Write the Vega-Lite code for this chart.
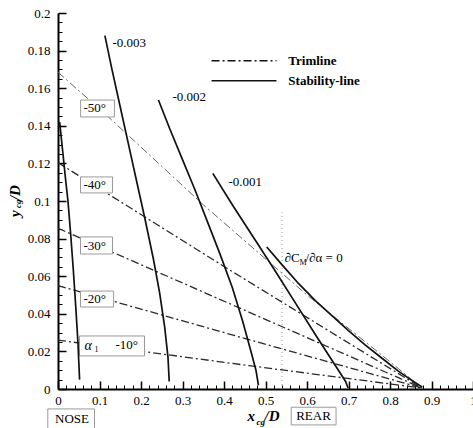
{
  "$schema": "https://vega.github.io/schema/vega-lite/v6.json",
  "width": 415,
  "height": 376,
  "autosize": {"type": "none"},
  "padding": {"left": 58, "top": 13, "right": 0, "bottom": 39},
  "background": "white",
  "config": {
    "view": {"stroke": null},
    "axis": {"domainColor": "black", "domainWidth": 2, "tickColor": "black", "labelFont": "Liberation Serif", "labelFontSize": 13, "labelColor": "black", "grid": false, "labelOverlap": false, "labelFlush": false}
  },
  "resolve": {"axis": {"x": "independent", "y": "independent"}},
  "datasets": {
    "trim": [
      {"curve": "-50", "x": 0, "y": 0.1685}, {"curve": "-50", "x": 0.12, "y": 0.145}, {"curve": "-50", "x": 0.35, "y": 0.098}, {"curve": "-50", "x": 0.6, "y": 0.05}, {"curve": "-50", "x": 0.8, "y": 0.0145}, {"curve": "-50", "x": 0.877, "y": 0.0005},
      {"curve": "-40", "x": 0, "y": 0.1204}, {"curve": "-40", "x": 0.405, "y": 0.0645}, {"curve": "-40", "x": 0.877, "y": 0.0005},
      {"curve": "-30", "x": 0, "y": 0.0855}, {"curve": "-30", "x": 0.461, "y": 0.0408}, {"curve": "-30", "x": 0.877, "y": 0.0005},
      {"curve": "-20", "x": 0, "y": 0.055}, {"curve": "-20", "x": 0.461, "y": 0.0262}, {"curve": "-20", "x": 0.877, "y": 0.0005},
      {"curve": "-10", "x": 0, "y": 0.026}, {"curve": "-10", "x": 0.461, "y": 0.0124}, {"curve": "-10", "x": 0.877, "y": 0.0005}
    ],
    "stab": [
      {"curve": "nose", "x": 0.004, "y": 0.142}, {"curve": "nose", "x": 0.012, "y": 0.125}, {"curve": "nose", "x": 0.018, "y": 0.112}, {"curve": "nose", "x": 0.024, "y": 0.1}, {"curve": "nose", "x": 0.031, "y": 0.081}, {"curve": "nose", "x": 0.037, "y": 0.063}, {"curve": "nose", "x": 0.043, "y": 0.043}, {"curve": "nose", "x": 0.048, "y": 0.025}, {"curve": "nose", "x": 0.052, "y": 0.005},
      {"curve": "-0.003", "x": 0.113, "y": 0.188}, {"curve": "-0.003", "x": 0.13, "y": 0.17}, {"curve": "-0.003", "x": 0.15, "y": 0.15}, {"curve": "-0.003", "x": 0.17, "y": 0.13}, {"curve": "-0.003", "x": 0.19, "y": 0.11}, {"curve": "-0.003", "x": 0.21, "y": 0.09}, {"curve": "-0.003", "x": 0.23, "y": 0.069}, {"curve": "-0.003", "x": 0.245, "y": 0.051}, {"curve": "-0.003", "x": 0.257, "y": 0.033}, {"curve": "-0.003", "x": 0.265, "y": 0.017}, {"curve": "-0.003", "x": 0.268, "y": 0.004},
      {"curve": "-0.002", "x": 0.242, "y": 0.1537}, {"curve": "-0.002", "x": 0.27, "y": 0.138}, {"curve": "-0.002", "x": 0.3, "y": 0.122}, {"curve": "-0.002", "x": 0.33, "y": 0.106}, {"curve": "-0.002", "x": 0.36, "y": 0.089}, {"curve": "-0.002", "x": 0.39, "y": 0.072}, {"curve": "-0.002", "x": 0.42, "y": 0.054}, {"curve": "-0.002", "x": 0.445, "y": 0.036}, {"curve": "-0.002", "x": 0.465, "y": 0.02}, {"curve": "-0.002", "x": 0.477, "y": 0.01}, {"curve": "-0.002", "x": 0.483, "y": 0.002},
      {"curve": "-0.001", "x": 0.373, "y": 0.1147}, {"curve": "-0.001", "x": 0.42, "y": 0.098}, {"curve": "-0.001", "x": 0.47, "y": 0.081}, {"curve": "-0.001", "x": 0.52, "y": 0.064}, {"curve": "-0.001", "x": 0.57, "y": 0.0465}, {"curve": "-0.001", "x": 0.62, "y": 0.029}, {"curve": "-0.001", "x": 0.655, "y": 0.017}, {"curve": "-0.001", "x": 0.68, "y": 0.0085}, {"curve": "-0.001", "x": 0.693, "y": 0.004}, {"curve": "-0.001", "x": 0.699, "y": 0.0005},
      {"curve": "0", "x": 0.503, "y": 0.0755}, {"curve": "0", "x": 0.54, "y": 0.066}, {"curve": "0", "x": 0.58, "y": 0.056}, {"curve": "0", "x": 0.62, "y": 0.047}, {"curve": "0", "x": 0.66, "y": 0.039}, {"curve": "0", "x": 0.7, "y": 0.031}, {"curve": "0", "x": 0.74, "y": 0.0235}, {"curve": "0", "x": 0.78, "y": 0.0165}, {"curve": "0", "x": 0.82, "y": 0.0095}, {"curve": "0", "x": 0.85, "y": 0.005}, {"curve": "0", "x": 0.878, "y": 0.001}
    ],
    "boxes": [
      {"x": 0.0545, "x2": 0.136, "y": 0.1447, "y2": 0.1537},
      {"x": 0.0542, "x2": 0.1313, "y": 0.1043, "y2": 0.1128},
      {"x": 0.0542, "x2": 0.1313, "y": 0.0718, "y2": 0.0809},
      {"x": 0.0542, "x2": 0.134, "y": 0.0436, "y2": 0.0521},
      {"x": 0.0518, "x2": 0.2084, "y": 0.0176, "y2": 0.0282},
      {"x": -0.0246, "x2": 0.088, "y": -0.0106, "y2": -0.0225},
      {"x": 0.562, "x2": 0.67, "y": -0.0097, "y2": -0.0191}
    ],
    "legend": [
      {"type": "Trimline", "x": 0.37, "x2": 0.5265, "y": 0.1746},
      {"type": "Stability-line", "x": 0.37, "x2": 0.5265, "y": 0.164}
    ],
    "neutral": [{"x": 0.54, "y": 0, "y2": 0.094}],
    "texts": [
      {"kind": "plain", "x": 0.1313, "y": 0.184, "text": "-0.003"},
      {"kind": "plain", "x": 0.2759, "y": 0.1553, "text": "-0.002"},
      {"kind": "plain", "x": 0.4108, "y": 0.1101, "text": "-0.001"},
      {"kind": "plain", "x": 0.0614, "y": 0.1495, "text": "-50°"},
      {"kind": "plain", "x": 0.0614, "y": 0.1085, "text": "-40°"},
      {"kind": "plain", "x": 0.0614, "y": 0.0761, "text": "-30°"},
      {"kind": "plain", "x": 0.0614, "y": 0.0479, "text": "-20°"},
      {"kind": "plain", "x": 0.1386, "y": 0.0234, "text": "-10°"},
      {"kind": "plain", "x": 0.5458, "y": 0.0697, "text": "∂C"},
      {"kind": "plain", "x": 0.5964, "y": 0.0697, "text": "/∂α = 0"},
      {"kind": "italic", "x": 0.0639, "y": 0.0229, "text": "α"},
      {"kind": "sub", "x": 0.088, "y": 0.0207, "text": "1"},
      {"kind": "sub", "x": 0.5819, "y": 0.067, "text": "M"},
      {"kind": "bold", "x": 0.555, "y": 0.1746, "text": "Trimline"},
      {"kind": "bold", "x": 0.555, "y": 0.164, "text": "Stability-line"},
      {"kind": "center", "x": 0.0337, "y": -0.0162, "text": "NOSE"},
      {"kind": "center", "x": 0.6157, "y": -0.0144, "text": "REAR"},
      {"kind": "titleX", "x": 0.4566, "y": -0.0144, "text": "x"},
      {"kind": "titleX", "x": 0.4976, "y": -0.0144, "text": "/D"},
      {"kind": "subX", "x": 0.4783, "y": -0.0176, "text": "cg"},
      {"kind": "titleY", "x": -0.1048, "y": 0.0915, "text": "y"},
      {"kind": "titleY", "x": -0.1048, "y": 0.1005, "text": "/D"},
      {"kind": "subY", "x": -0.0952, "y": 0.0963, "text": "cg"}
    ]
  },
  "layer": [
    {
      "data": {"name": "trim"},
      "transform": [{"filter": "datum.curve != '-50'"}],
      "mark": {"type": "line", "color": "#2a2a2a", "strokeWidth": 1.3, "strokeDash": [8, 3, 2, 3]},
      "encoding": {
        "x": {"field": "x", "type": "quantitative", "scale": {"domain": [0, 1], "nice": false, "zero": false},
          "axis": {"title": null, "orient": "bottom", "values": [0, 0.1, 0.2, 0.3, 0.4, 0.5, 0.6, 0.7, 0.8, 0.9, 1], "format": "~g", "tickSize": -8, "tickWidth": 1.5, "labelPadding": 13, "labelOverlap": false, "labelFlush": false}},
        "y": {"field": "y", "type": "quantitative", "scale": {"domain": [0, 0.2], "nice": false, "zero": false},
          "axis": {"title": null, "orient": "left", "values": [0, 0.02, 0.04, 0.06, 0.08, 0.1, 0.12, 0.14, 0.16, 0.18, 0.2], "format": "~g", "tickSize": -8, "tickWidth": 1.5, "labelPadding": 16, "labelOverlap": false, "labelFlush": false}},
        "detail": {"field": "curve"}
      }
    },
    {
      "data": {"name": "neutral"},
      "mark": {"type": "rule", "color": "#9a9a9a", "strokeWidth": 1, "strokeDash": [1, 3]},
      "encoding": {
        "x": {"field": "x", "type": "quantitative", "axis": {"title": null, "orient": "bottom", "values": [0.02,0.04,0.06,0.08,0.12,0.14,0.16,0.18,0.22,0.24,0.26,0.28,0.32,0.34,0.36,0.38,0.42,0.44,0.46,0.48,0.52,0.54,0.56,0.58,0.62,0.64,0.66,0.68,0.72,0.74,0.76,0.78,0.82,0.84,0.86,0.88,0.92,0.94,0.96,0.98], "labels": false, "domain": false, "tickSize": -4, "tickWidth": 1}},
        "y": {"field": "y", "type": "quantitative", "axis": {"title": null, "orient": "left", "values": [0.005,0.01,0.015,0.025,0.03,0.035,0.045,0.05,0.055,0.065,0.07,0.075,0.085,0.09,0.095,0.105,0.11,0.115,0.125,0.13,0.135,0.145,0.15,0.155,0.165,0.17,0.175,0.185,0.19,0.195], "labels": false, "domain": false, "tickSize": -4, "tickWidth": 1}},
        "y2": {"field": "y2"}
      }
    },
    {
      "data": {"name": "trim"},
      "transform": [{"filter": "datum.curve == '-50'"}],
      "mark": {"type": "line", "color": "#666666", "strokeWidth": 1, "strokeDash": [8, 3, 2, 3]},
      "encoding": {
        "x": {"field": "x", "type": "quantitative", "axis": null},
        "y": {"field": "y", "type": "quantitative", "axis": null},
        "detail": {"field": "curve"}
      }
    },
    {
      "data": {"name": "boxes"},
      "mark": {"type": "rect", "fill": "white", "stroke": "#9a9a9a", "strokeWidth": 1},
      "encoding": {
        "x": {"field": "x", "type": "quantitative", "axis": null},
        "x2": {"field": "x2"},
        "y": {"field": "y", "type": "quantitative", "axis": null},
        "y2": {"field": "y2"}
      }
    },
    {
      "data": {"name": "stab"},
      "mark": {"type": "line", "color": "#111111", "strokeWidth": 1.7},
      "encoding": {
        "x": {"field": "x", "type": "quantitative", "axis": null},
        "y": {"field": "y", "type": "quantitative", "axis": null},
        "detail": {"field": "curve"}
      }
    },
    {
      "data": {"name": "legend"},
      "mark": {"type": "rule", "color": "#111111", "strokeWidth": 1.6},
      "encoding": {
        "x": {"field": "x", "type": "quantitative", "axis": null},
        "x2": {"field": "x2"},
        "y": {"field": "y", "type": "quantitative", "axis": null},
        "strokeDash": {"field": "type", "type": "nominal", "legend": null, "scale": {"domain": ["Trimline", "Stability-line"], "range": [[8, 3, 2, 3], [1, 0]]}}
      }
    },
    {
      "data": {"name": "texts"},
      "transform": [{"filter": "datum.kind == 'plain'"}],
      "mark": {"type": "text", "align": "left", "baseline": "middle", "font": "Liberation Serif", "fontSize": 13, "color": "black"},
      "encoding": {"x": {"field": "x", "type": "quantitative", "axis": null}, "y": {"field": "y", "type": "quantitative", "axis": null}, "text": {"field": "text"}}
    },
    {
      "data": {"name": "texts"},
      "transform": [{"filter": "datum.kind == 'italic'"}],
      "mark": {"type": "text", "align": "left", "baseline": "middle", "font": "Liberation Serif", "fontStyle": "italic", "fontSize": 14, "color": "black"},
      "encoding": {"x": {"field": "x", "type": "quantitative", "axis": null}, "y": {"field": "y", "type": "quantitative", "axis": null}, "text": {"field": "text"}}
    },
    {
      "data": {"name": "texts"},
      "transform": [{"filter": "datum.kind == 'sub'"}],
      "mark": {"type": "text", "align": "left", "baseline": "middle", "font": "Liberation Serif", "fontSize": 8, "color": "black"},
      "encoding": {"x": {"field": "x", "type": "quantitative", "axis": null}, "y": {"field": "y", "type": "quantitative", "axis": null}, "text": {"field": "text"}}
    },
    {
      "data": {"name": "texts"},
      "transform": [{"filter": "datum.kind == 'bold'"}],
      "mark": {"type": "text", "align": "left", "baseline": "middle", "font": "Liberation Serif", "fontWeight": "bold", "fontSize": 13, "color": "black"},
      "encoding": {"x": {"field": "x", "type": "quantitative", "axis": null}, "y": {"field": "y", "type": "quantitative", "axis": null}, "text": {"field": "text"}}
    },
    {
      "data": {"name": "texts"},
      "transform": [{"filter": "datum.kind == 'center'"}],
      "mark": {"type": "text", "align": "center", "baseline": "middle", "font": "Liberation Serif", "fontSize": 13, "color": "black"},
      "encoding": {"x": {"field": "x", "type": "quantitative", "axis": null}, "y": {"field": "y", "type": "quantitative", "axis": null}, "text": {"field": "text"}}
    },
    {
      "data": {"name": "texts"},
      "transform": [{"filter": "datum.kind == 'titleX'"}],
      "mark": {"type": "text", "align": "left", "baseline": "middle", "font": "Liberation Serif", "fontWeight": "bold", "fontStyle": "italic", "fontSize": 15, "color": "black"},
      "encoding": {"x": {"field": "x", "type": "quantitative", "axis": null}, "y": {"field": "y", "type": "quantitative", "axis": null}, "text": {"field": "text"}}
    },
    {
      "data": {"name": "texts"},
      "transform": [{"filter": "datum.kind == 'subX'"}],
      "mark": {"type": "text", "align": "left", "baseline": "middle", "font": "Liberation Serif", "fontWeight": "bold", "fontStyle": "italic", "fontSize": 9, "color": "black"},
      "encoding": {"x": {"field": "x", "type": "quantitative", "axis": null}, "y": {"field": "y", "type": "quantitative", "axis": null}, "text": {"field": "text"}}
    },
    {
      "data": {"name": "texts"},
      "transform": [{"filter": "datum.kind == 'titleY'"}],
      "mark": {"type": "text", "align": "left", "baseline": "middle", "angle": 270, "font": "Liberation Serif", "fontWeight": "bold", "fontStyle": "italic", "fontSize": 15, "color": "black"},
      "encoding": {"x": {"field": "x", "type": "quantitative", "axis": null}, "y": {"field": "y", "type": "quantitative", "axis": null}, "text": {"field": "text"}}
    },
    {
      "data": {"name": "texts"},
      "transform": [{"filter": "datum.kind == 'subY'"}],
      "mark": {"type": "text", "align": "left", "baseline": "middle", "angle": 270, "font": "Liberation Serif", "fontWeight": "bold", "fontStyle": "italic", "fontSize": 9, "color": "black"},
      "encoding": {"x": {"field": "x", "type": "quantitative", "axis": null}, "y": {"field": "y", "type": "quantitative", "axis": null}, "text": {"field": "text"}}
    }
  ]
}
